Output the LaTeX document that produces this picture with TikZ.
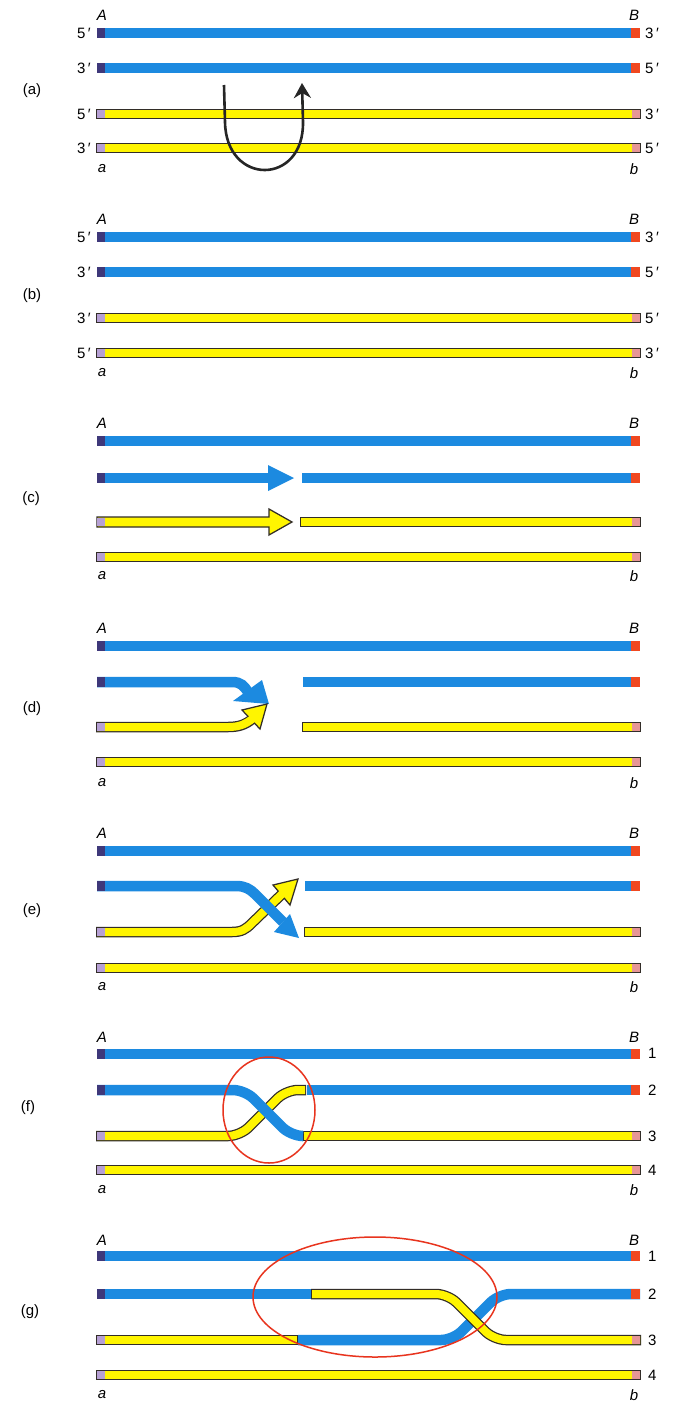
\documentclass[tikz,border=0pt]{standalone}
\usepackage{fontspec}
\setmainfont{Liberation Sans}
\usetikzlibrary{arrows.meta}

\definecolor{dnablue}{RGB}{28,138,224}
\definecolor{dnayellow}{RGB}{255,245,0}
\definecolor{outline}{RGB}{50,45,40}
\definecolor{capnavy}{RGB}{62,56,122}
\definecolor{caplilac}{RGB}{182,160,212}
\definecolor{capred}{RGB}{240,72,32}
\definecolor{cappink}{RGB}{230,150,150}
\definecolor{ringred}{RGB}{232,52,30}

% straight strand pieces: x1, x2, y
\newcommand\bluerow[3]{\draw[blueline] (#1,#3) -- (#2,#3);}
\newcommand\yelrow[3]{\draw[yelouter] (#1,#3) -- (#2,#3); \draw[yelinner] (#1,#3) -- (#2,#3);}
% end markers of the strands
\newcommand\bluecapL[1]{\fill[capnavy] (97,#1-5.25) rectangle (105,#1+5.25);}
\newcommand\bluecapR[1]{\fill[capred] (631,#1-5.25) rectangle (640,#1+5.25);}
\newcommand\yelcapL[1]{\fill[caplilac] (97,#1-4) rectangle (105,#1+4);}
\newcommand\yelcapR[1]{\fill[cappink] (632,#1-4) rectangle (640,#1+4);}
\newcommand\fullblue[1]{\bluerow{97}{640}{#1}\bluecapL{#1}\bluecapR{#1}}
\newcommand\fullyel[1]{\yelrow{97}{640}{#1}\yelcapL{#1}\yelcapR{#1}}
% gene markers A/B above and a/b below a panel: prefix, y of A, y of a
\newcommand\genemarks[3]{%
  \node[lbl] (#1A) at (102,#2) {\textit{A}};
  \node[lbl] (#1B) at (634,#2) {\textit{B}};
  \node[lbl] (#1a) at (102,#3) {\textit{a}};
  \node[lbl] (#1b) at (634,#3) {\textit{b}};}

\begin{document}
\begin{tikzpicture}[x=1pt,y=-1pt,
  blueline/.style={draw=dnablue, line width=10.5pt},
  yelouter/.style={draw=outline, line width=10.5pt, shorten <=-1pt, shorten >=-1pt},
  yelinner/.style={draw=dnayellow, line width=8pt},
  yelinnerx/.style={draw=dnayellow, line width=8pt, shorten >=-3pt},
  yelhead/.style={fill=dnayellow, draw=outline, line width=1.25pt, line join=miter},
  bluehead/.style={fill=dnablue},
  lbl/.style={font=\fontsize{15}{18}\selectfont, inner sep=0pt},
  endl/.style={lbl, anchor=east},
  endr/.style={lbl, anchor=west},
  ring/.style={draw=ringred, line width=1.5pt},
  flip/.style={draw=black!85, line width=2.6pt, -{Stealth[length=15pt, width=17pt, inset=5pt]}}]

\fill[white] (0,0) rectangle (674,1403);
\useasboundingbox (0,0) rectangle (674,1403);

% ---------------- (a) ----------------
\node[lbl] (pa) at (32,91) {(a)};
\fullblue{33}\fullblue{68}\fullyel{114}\fullyel{148}
\genemarks{pa}{15}{169}
\node[endl] (aL1) at (91,33) {5\,′};
\node[endl] (aL2) at (91,68) {3\,′};
\node[endl] (aL3) at (91,114) {5\,′};
\node[endl] (aL4) at (91,148) {3\,′};
\node[endr] (aR1) at (645,33) {3\,′};
\node[endr] (aR2) at (645,68) {5\,′};
\node[endr] (aR3) at (645,114) {3\,′};
\node[endr] (aR4) at (645,148) {5\,′};
\coordinate (flipS) at (224,85);
\coordinate (flipE) at (302,83);
\draw[flip] (flipS) -- (225,122) .. controls (226,186) and (304,186) .. (303,122) -- (flipE);

% ---------------- (b) ----------------
\node[lbl] (pb) at (32,296) {(b)};
\fullblue{237}\fullblue{272}\fullyel{318}\fullyel{353}
\genemarks{pb}{219}{373}
\node[endl] (bL1) at (91,237) {5\,′};
\node[endl] (bL2) at (91,272) {3\,′};
\node[endl] (bL3) at (91,318) {3\,′};
\node[endl] (bL4) at (91,353) {5\,′};
\node[endr] (bR1) at (645,237) {3\,′};
\node[endr] (bR2) at (645,272) {5\,′};
\node[endr] (bR3) at (645,318) {5\,′};
\node[endr] (bR4) at (645,353) {3\,′};

% ---------------- (c) ----------------
\node[lbl] (pc) at (31,499) {(c)};
\genemarks{pc}{423}{576}
\fullblue{441}
% nicked strand, left part as an arrow
\bluerow{97}{270}{478}
\fill[bluehead] (268,465) -- (294,478) -- (268,491) -- cycle;
\bluecapL{478}
\bluerow{302}{640}{478}\bluecapR{478}
\filldraw[yelhead] (97,517) -- (269,517) -- (269,509) -- (292,522) -- (269,535) -- (269,527) -- (97,527) -- cycle;
\yelcapL{522}
\yelrow{301}{640}{522}\yelcapR{522}
\fullyel{557}

% ---------------- (d) ----------------
\node[lbl] (pd) at (32,709) {(d)};
\genemarks{pd}{628}{783}
\fullblue{646}
\draw[blueline] (97,682) -- (232,682) .. controls (241,682) and (244,686) .. (248,692);
\fill[bluehead] (262,680) -- (269,704) -- (233,701) -- cycle;
\bluecapL{682}
\bluerow{303}{640}{682}\bluecapR{682}
\draw[yelouter] (97,727) -- (228,727) .. controls (238,727) and (245,725) .. (251,720);
\filldraw[yelhead] (242,710) -- (267,704) -- (260,729) -- cycle;
\draw[yelinnerx] (97,727) -- (228,727) .. controls (238,727) and (245,725) .. (251,720);
\yelcapL{727}
\yelrow{303}{640}{727}\yelcapR{727}
\fullyel{762}

% ---------------- (e) ----------------
\node[lbl] (pe) at (32,911) {(e)};
\genemarks{pe}{833}{987}
\fullblue{851}
\draw[yelouter] (97,932) -- (232,932) .. controls (242,932) and (246,929) .. (252,923) -- (281,895);
\filldraw[yelhead] (273,885) -- (298,879) -- (290,905) -- cycle;
\draw[yelinnerx] (97,932) -- (232,932) .. controls (242,932) and (246,929) .. (252,923) -- (281,895);
\yelcapL{932}
\draw[blueline] (97,886) -- (236,886) .. controls (245,886) and (250,889) .. (255,894) -- (283,922);
\fill[bluehead] (290,914) -- (299,938) -- (274,932) -- cycle;
\bluecapL{886}
\bluerow{305}{640}{886}\bluecapR{886}
\yelrow{305}{640}{932}\yelcapR{932}
\fullyel{968}

% ---------------- (f) ----------------
\node[lbl] (pf) at (28,1108) {(f)};
\genemarks{pf}{1037}{1190}
\fullblue{1054}
\draw[yelouter, rounded corners=12pt] (97,1136) -- (240,1136) -- (286,1090) -- (305,1090);
\draw[yelinner, rounded corners=12pt] (97,1136) -- (240,1136) -- (286,1090) -- (305,1090);
\yelcapL{1136}
\yelrow{304}{640}{1136}\yelcapR{1136}
\draw[blueline, rounded corners=12pt] (97,1090) -- (245,1090) -- (291,1136) -- (302,1136);
\bluecapL{1090}
\bluerow{306.5}{640}{1090}\bluecapR{1090}
\fullyel{1170}
\node[endr] (f1) at (648,1053) {1};
\node[endr] (f2) at (648,1090) {2};
\node[endr] (f3) at (648,1136) {3};
\node[endr] (f4) at (648,1170) {4};
\draw[ring] (269,1110) ellipse [x radius=46, y radius=53];

% ---------------- (g) ----------------
\node[lbl] (pg) at (30,1312) {(g)};
\genemarks{pg}{1240}{1395}
\fullblue{1256}
\bluerow{97}{312}{1294}\bluecapL{1294}
\yelrow{97}{297}{1340}\yelcapL{1340}
\draw[blueline, rounded corners=12pt] (298,1340) -- (453,1340) -- (499,1294) -- (640,1294);
\bluecapR{1294}
\draw[yelouter, rounded corners=12pt] (312,1294) -- (448,1294) -- (494,1340) -- (640,1340);
\draw[yelinner, rounded corners=12pt] (312,1294) -- (448,1294) -- (494,1340) -- (640,1340);
\yelcapR{1340}
\fullyel{1375}
\node[endr] (g1) at (648,1256) {1};
\node[endr] (g2) at (648,1294) {2};
\node[endr] (g3) at (648,1340) {3};
\node[endr] (g4) at (648,1375) {4};
\draw[ring] (375,1297) ellipse [x radius=122, y radius=60];

\end{tikzpicture}
\end{document}
